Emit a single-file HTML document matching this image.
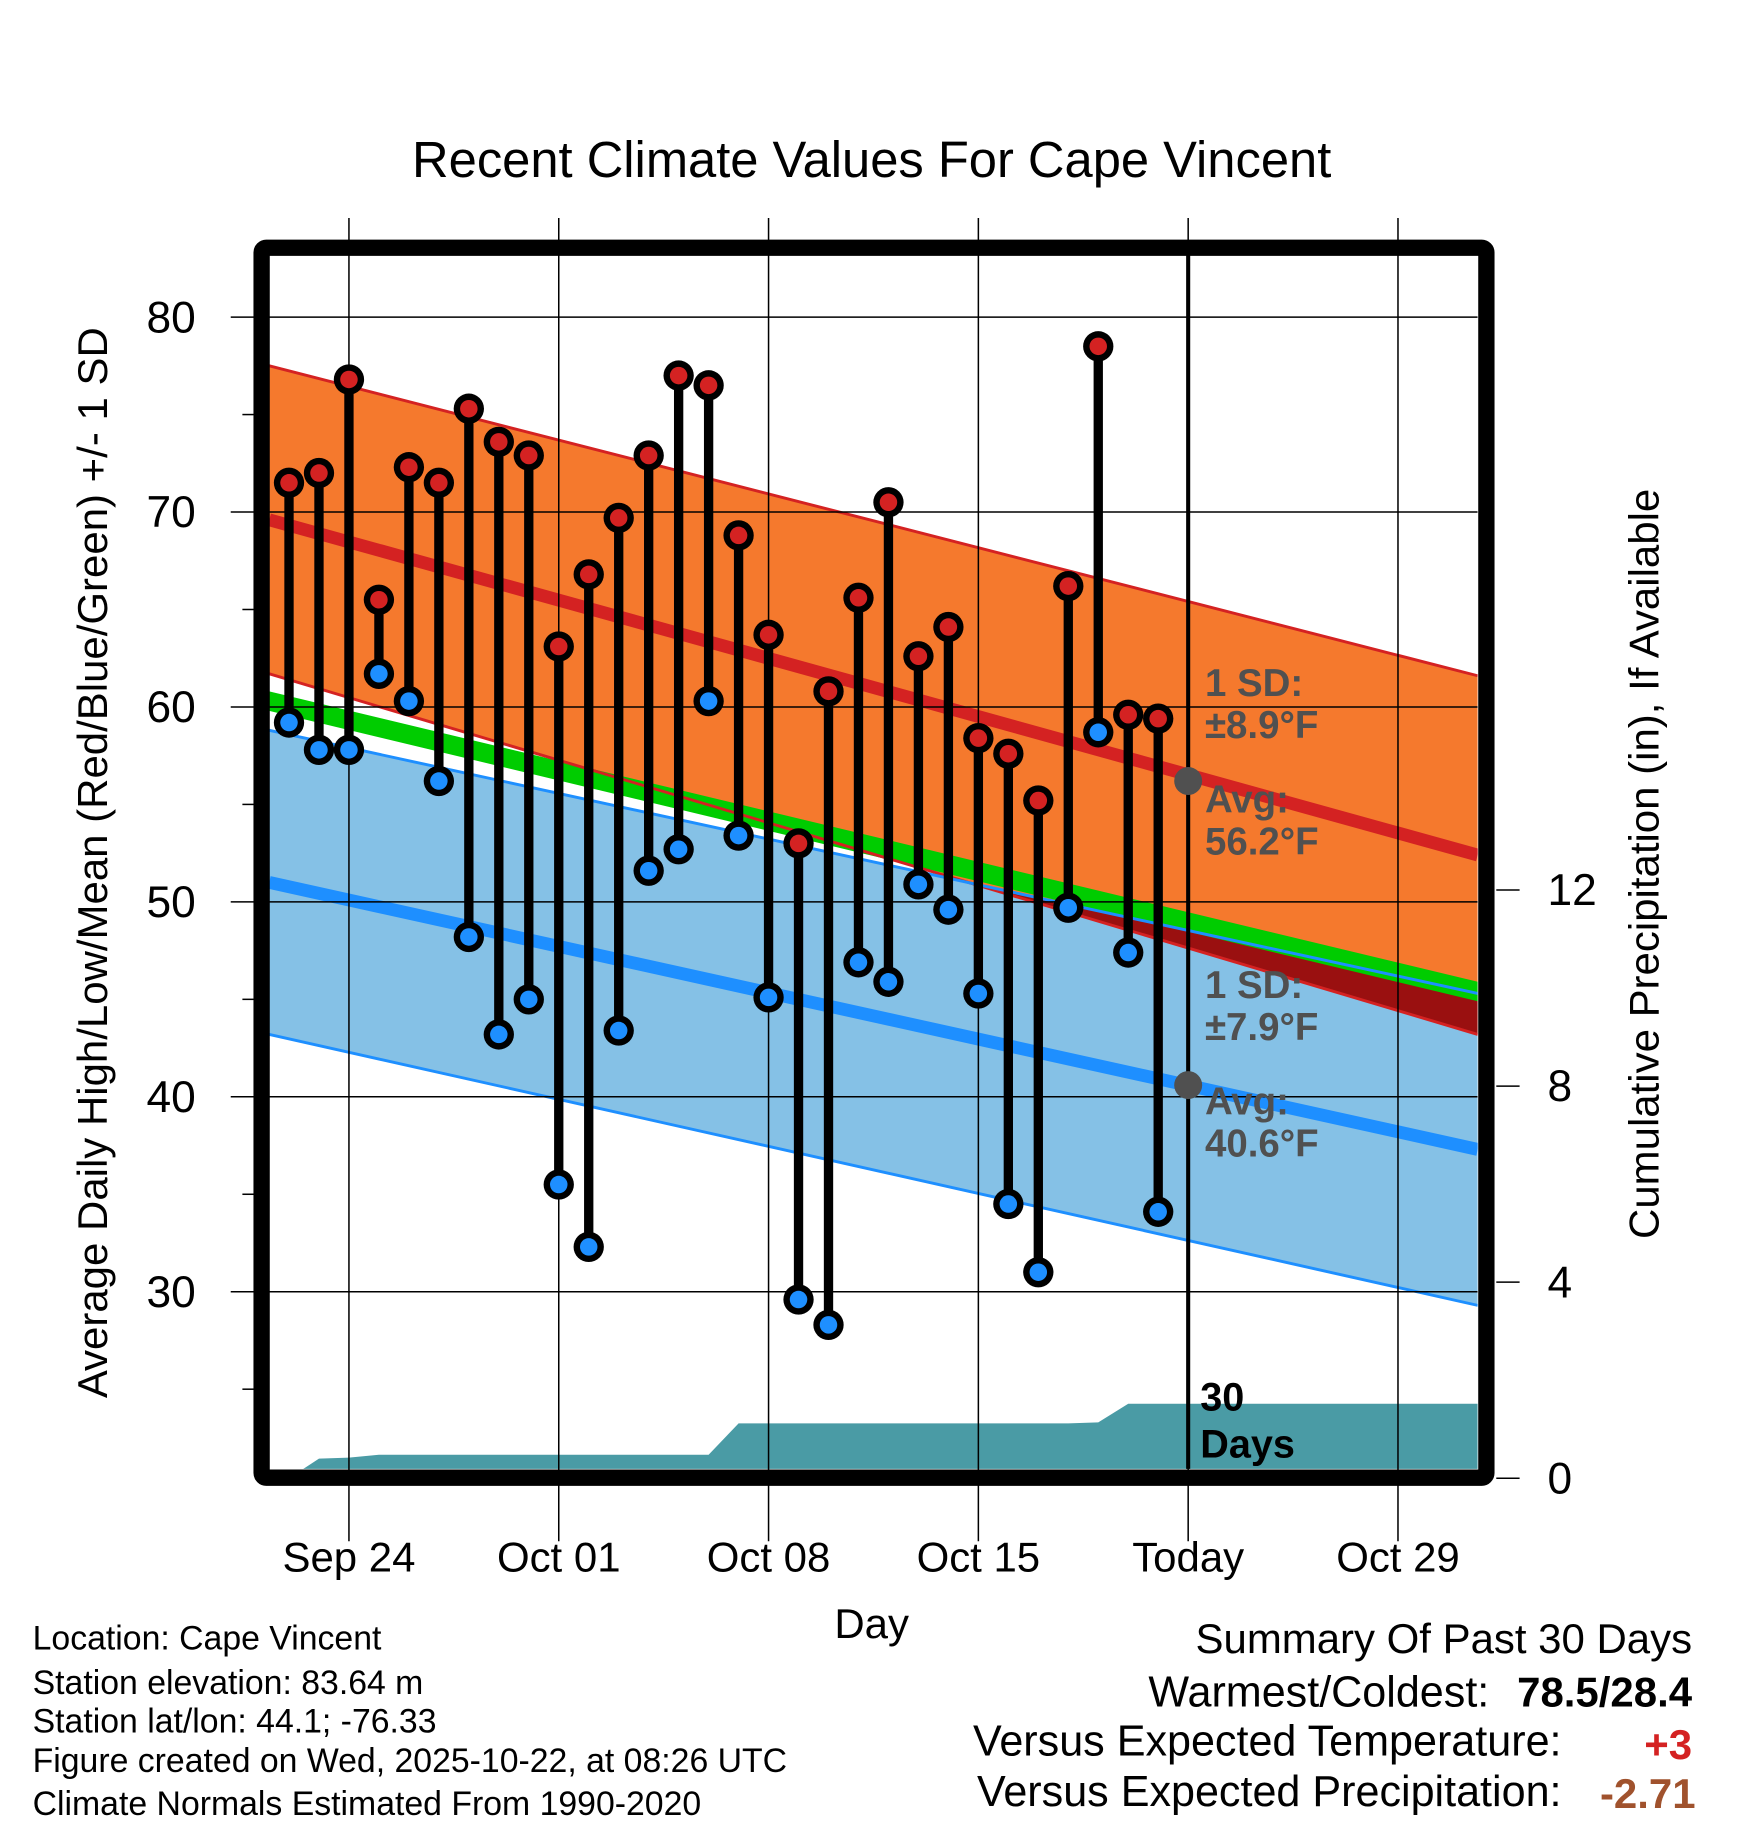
<!DOCTYPE html>
<html><head><meta charset="utf-8"><style>
html,body{margin:0;padding:0;background:#fff;}
svg{display:block;font-family:"Liberation Sans",Arial,sans-serif;}
</style></head><body>
<svg id="chart" xmlns="http://www.w3.org/2000/svg" width="1748" height="1828" viewBox="0 0 1500 1568" preserveAspectRatio="none">
</svg>
<script>
const dates = ["Sep 22","Sep 23","Sep 24","Sep 25","Sep 26","Sep 27","Sep 28","Sep 29","Sep 30","Oct 01","Oct 02","Oct 03","Oct 04","Oct 05","Oct 06","Oct 07","Oct 08","Oct 09","Oct 10","Oct 11","Oct 12","Oct 13","Oct 14","Oct 15","Oct 16","Oct 17","Oct 18","Oct 19","Oct 20","Oct 21"];
const highs = [71.5,72,76.8,65.5,72.3,71.5,75.3,73.6,72.9,63.1,66.8,69.7,72.9,77,76.5,68.8,63.7,53,60.8,65.6,70.5,62.6,64.1,58.4,57.6,55.2,66.2,78.5,59.6,59.4];
const lows = [59.2,57.8,57.8,61.7,60.3,56.2,48.2,43.2,45,35.5,32.3,43.4,51.6,52.7,60.3,53.4,45.1,29.6,28.3,46.9,45.9,50.9,49.6,45.3,34.5,31.0,49.7,58.7,47.4,34.1];
const precip = [0,0.4,0.42,0.48,0.48,0.48,0.48,0.48,0.48,0.48,0.48,0.48,0.48,0.48,0.48,1.12,1.12,1.12,1.12,1.12,1.12,1.12,1.12,1.12,1.12,1.12,1.12,1.14,1.52,1.52];
const normHighStart = 69.6, normHighEnd = 52.4, highSDStart = 7.9, highSDEnd = 9.2;
const normLowStart = 51.0, normLowEnd = 37.3, lowSDStart = 7.8, lowSDEnd = 8.0;
const greenStart = [60.8, 59.8], greenEnd = [45.9, 44.9];
const xTickLabels = ["Sep 24","Oct 01","Oct 08","Oct 15","Today","Oct 29"];
const xTickDays = [2,9,16,23,30,37];
const yTicks = [30,40,50,60,70,80];
const pTicks = [0,4,8,12];

const NS="http://www.w3.org/2000/svg";
const svg=document.getElementById('chart');
const L=231,R=1268,T=219,B=1260;
const xs=d=>248+d*25.72;
const ys=t=>272+(80-t)*16.72;
const yp=p=>1268-p*42.05;
function el(tag,attrs,parent){const e=document.createElementNS(NS,tag);for(const k in attrs)e.setAttribute(k,attrs[k]);(parent||svg).appendChild(e);return e;}
function txt(s,attrs){const e=el('text',attrs);e.textContent=s;return e;}
const xl=xs(-0.66), xr=xs(39.66);

const defs=el('defs',{});
const cp=el('clipPath',{id:'plotclip'},defs);
el('rect',{x:L,y:T,width:R-L,height:B-T},cp);
const hiUp=[ys(normHighStart+highSDStart),ys(normHighEnd+highSDEnd)];
const hiLo=[ys(normHighStart-highSDStart),ys(normHighEnd-highSDEnd)];
const loUp=[ys(normLowStart+lowSDStart),ys(normLowEnd+lowSDEnd)];
const loLo=[ys(normLowStart-lowSDStart),ys(normLowEnd-lowSDEnd)];
const cpo=el('clipPath',{id:'orangeclip'},defs);
el('polygon',{points:`${xl},${hiUp[0]} ${xr},${hiUp[1]} ${xr},${hiLo[1]} ${xl},${hiLo[0]}`},cpo);

const g=el('g',{'clip-path':'url(#plotclip)'});
let b=el('polygon',{points:`${xl},${loUp[0]} ${xr},${loUp[1]} ${xr},${loLo[1]} ${xl},${loLo[0]}`,fill:'#85c1e6'},g);

b=el('polygon',{points:`${xl},${hiUp[0]} ${xr},${hiUp[1]} ${xr},${hiLo[1]} ${xl},${hiLo[0]}`,fill:'#f5792d'},g);

b=el('polygon',{points:`${xl},${loUp[0]} ${xr},${loUp[1]} ${xr},${loLo[1]} ${xl},${loLo[0]}`,fill:'#9a1010','clip-path':'url(#orangeclip)'},g);

b=el('polygon',{points:`${xl},${ys(greenStart[0])} ${xr},${ys(greenEnd[0])} ${xr},${ys(greenEnd[1])} ${xl},${ys(greenStart[1])}`,fill:'#00cc00'},g);

el('line',{x1:xl,y1:hiUp[0],x2:xr,y2:hiUp[1],stroke:'#d42222','stroke-width':2.5},g);
el('line',{x1:xl,y1:hiLo[0],x2:xr,y2:hiLo[1],stroke:'#d42222','stroke-width':2.5},g);
el('line',{x1:xl,y1:loUp[0],x2:xr,y2:loUp[1],stroke:'#1e8fff','stroke-width':2.5},g);
el('line',{x1:xl,y1:loLo[0],x2:xr,y2:loLo[1],stroke:'#1e8fff','stroke-width':2.5},g);
b=el('line',{x1:xl,y1:ys(normHighStart),x2:xr,y2:ys(normHighEnd),stroke:'#d42222','stroke-width':11},g);

b=el('line',{x1:xl,y1:ys(normLowStart),x2:xr,y2:ys(normLowEnd),stroke:'#1e8fff','stroke-width':11},g);

const grid=el('g',{},g);


yTicks.forEach(t=>{el('line',{x1:L,y1:ys(t),x2:R,y2:ys(t),stroke:'#000','stroke-width':1.3},grid);});
let pts=`${xs(-0.4)},${yp(0)} `;
precip.forEach((p,i)=>{pts+=`${xs(i)},${yp(p)} `;});
pts+=`${R},${yp(precip[precip.length-1])} ${R},${yp(0)}`;
b=el('polygon',{points:pts,fill:'#4a9ba5'},g);

xTickDays.forEach(d=>{el('line',{x1:xs(d),y1:187,x2:xs(d),y2:1322,stroke:'#000','stroke-width':1.3});});
b=el('line',{x1:xs(30),y1:T,x2:xs(30),y2:B,stroke:'#000','stroke-width':3.5});

highs.forEach((h,i)=>{
  const x=xs(i);
  const s=el('line',{x1:x,y1:ys(h),x2:x,y2:ys(lows[i]),stroke:'#000','stroke-width':8});
  
});
highs.forEach((h,i)=>{
  const x=xs(i);
  el('circle',{cx:x,cy:ys(h),r:13,fill:'#000'});
  const c=el('circle',{cx:x,cy:ys(h),r:7.5,fill:'#d42222'});
  
  el('circle',{cx:x,cy:ys(lows[i]),r:13,fill:'#000'});
  const c2=el('circle',{cx:x,cy:ys(lows[i]),r:7.5,fill:'#1e8fff'});
  
});
el('circle',{cx:xs(30),cy:ys(56.2),r:12,fill:'#505050'});
el('circle',{cx:xs(30),cy:ys(40.6),r:12,fill:'#505050'});
const ann=[["1 SD:",597],["±8.9°F",633],["Avg:",697],["56.2°F",733],["1 SD:",856],["±7.9°F",892],["Avg:",956],["40.6°F",992]];
ann.forEach(a=>{const t=txt(a[0],{x:1034,y:a[1],'font-size':33,'font-weight':'bold',fill:'#505050'});});
txt("30",{x:1030,y:1210,'font-size':34,'font-weight':'bold',fill:'#000'});
txt("Days",{x:1030,y:1250,'font-size':34,'font-weight':'bold',fill:'#000'});
b=el('rect',{x:224.5,y:212.5,width:1051,height:1055,fill:'none',stroke:'#000','stroke-width':14,rx:4});

for(let t=25;t<=80;t+=5){el('line',{x1:t%10==0?198:208,y1:ys(t),x2:218,y2:ys(t),stroke:'#000','stroke-width':1.3});}
yTicks.forEach(t=>{const e=txt(String(t),{x:168,y:ys(t)+13,'font-size':38,'text-anchor':'end'});});
pTicks.forEach(p=>{el('line',{x1:1284,y1:yp(p),x2:1304,y2:yp(p),stroke:'#000','stroke-width':1.3});
  const e=txt(String(p),{x:1328,y:yp(p)+13,'font-size':38,'text-anchor':'start'});});
xTickLabels.forEach((s,i)=>{const e=txt(s,{x:xs(xTickDays[i]),y:1348,'font-size':36,'text-anchor':'middle'});});
let t=txt("Recent Climate Values For Cape Vincent",{x:748,y:152,'font-size':43.5,'text-anchor':'middle'});

t=txt("Average Daily High/Low/Mean (Red/Blue/Green) +/- 1 SD",{x:0,y:0,'font-size':36,'text-anchor':'middle',transform:'translate(92,740) rotate(-90)'});

t=txt("Cumulative Precipitation (in), If Available",{x:0,y:0,'font-size':36,'text-anchor':'middle',transform:'translate(1423,741) rotate(-90)'});

t=txt("Day",{x:748,y:1405,'font-size':36,'text-anchor':'middle'});

[["Location: Cape Vincent",1415],["Station elevation: 83.64 m",1453],["Station lat/lon: 44.1; -76.33",1486],["Figure created on Wed, 2025-10-22, at 08:26 UTC",1520],["Climate Normals Estimated From 1990-2020",1557]].forEach(a=>{
  const e=txt(a[0],{x:28,y:a[1],'font-size':29});});
t=txt("Summary Of Past 30 Days",{x:1452,y:1418,'font-size':36,'text-anchor':'end'});
txt("Warmest/Coldest:",{x:1278,y:1464,'font-size':37,'text-anchor':'end'});
t=txt("78.5/28.4",{x:1452,y:1464,'font-size':36,'font-weight':'bold','text-anchor':'end'});
txt("Versus Expected Temperature:",{x:1340,y:1506,'font-size':37,'text-anchor':'end'});
t=txt("+3",{x:1452,y:1509,'font-size':36,'font-weight':'bold','text-anchor':'end',fill:'#d42222'});
txt("Versus Expected Precipitation:",{x:1340,y:1549,'font-size':37,'text-anchor':'end'});
t=txt("-2.71",{x:1455,y:1551,'font-size':36,'font-weight':'bold','text-anchor':'end',fill:'#a0522d'});
</script>
</body></html>
